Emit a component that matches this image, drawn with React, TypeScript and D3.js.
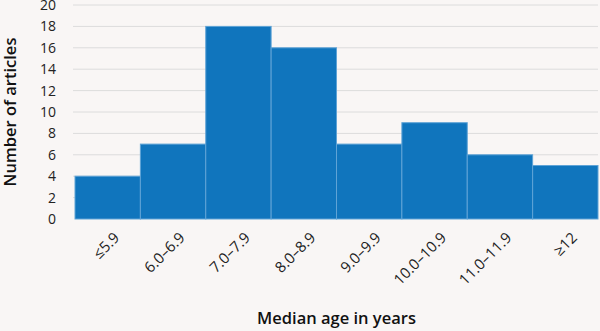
import { useEffect, useRef } from "react";
import * as d3 from "d3";

const categories = ["≤5.9", "6.0–6.9", "7.0–7.9", "8.0–8.9", "9.0–9.9", "10.0–10.9", "11.0–11.9", "≥12"];
const counts = [4, 7, 18, 16, 7, 9, 6, 5];
const yTicks = [0, 2, 4, 6, 8, 10, 12, 14, 16, 18, 20];

const Histogram = () => {
    const ref = useRef<SVGSVGElement>(null);

    useEffect(() => {
        const svg = d3.select(ref.current);
        svg.selectAll("*").remove();

        const W = 600, H = 331;
        const margin = { top: 5, right: 2, bottom: 112, left: 75 };
        const width = W - margin.left - margin.right;
        const height = H - margin.top - margin.bottom;
        const font = "'Open Sans', 'Noto Sans', sans-serif";

        svg.append("rect").attr("width", W).attr("height", H).attr("fill", "#f9f6f5");

        const g = svg.append("g").attr("transform", `translate(${margin.left},${margin.top})`);

        const x = d3.scaleBand().domain(categories).range([0, width]).padding(0);
        const y = d3.scaleLinear().domain([0, 20]).range([height, 0]);

        // gridlines
        g.selectAll("line.grid")
            .data(yTicks.filter(d => d > 0))
            .enter().append("line")
            .attr("class", "grid")
            .attr("x1", -2).attr("x2", width)
            .attr("y1", d => y(d)).attr("y2", d => y(d))
            .attr("stroke", "#dcdcdc")
            .attr("stroke-width", 1);

        // y tick labels
        g.selectAll("text.ytick")
            .data(yTicks)
            .enter().append("text")
            .attr("class", "ytick")
            .attr("x", -19)
            .attr("y", d => y(d))
            .attr("dy", "0.36em")
            .attr("text-anchor", "end")
            .attr("font-family", font)
            .attr("font-size", 14)
            .attr("fill", "#222")
            .text(d => d);

        // bars
        g.selectAll("rect.bar")
            .data(counts)
            .enter().append("rect")
            .attr("class", "bar")
            .attr("x", (_, i) => x(categories[i])!)
            .attr("y", d => y(d))
            .attr("width", x.bandwidth())
            .attr("height", d => height - y(d))
            .attr("fill", "#1075bd")
            .attr("stroke", "#5fa3d6")
            .attr("stroke-width", 1);

        // x tick labels
        g.selectAll("text.xtick")
            .data(categories)
            .enter().append("text")
            .attr("class", "xtick")
            .attr("transform", d => `translate(${x(d)! + x.bandwidth() / 2 + 5},${height + 12}) rotate(-45)`)
            .attr("text-anchor", "end")
            .attr("dy", "0.72em")
            .attr("font-family", font)
            .attr("font-size", 15)
            .attr("fill", "#222")
            .text(d => d);

        // axis titles
        svg.append("text")
            .attr("x", margin.left + width / 2)
            .attr("y", 324)
            .attr("text-anchor", "middle")
            .attr("font-family", font)
            .attr("font-weight", 600)
            .attr("font-size", 16.5)
            .attr("fill", "#111")
            .text("Median age in years");

        svg.append("text")
            .attr("transform", `translate(16,${margin.top + height / 2}) rotate(-90)`)
            .attr("text-anchor", "middle")
            .attr("font-family", font)
            .attr("font-weight", 600)
            .attr("font-size", 16.5)
            .attr("fill", "#111")
            .text("Number of articles");
    }, []);

    return <svg ref={ref} width={600} height={331} style={{ display: "block" }} />;
};

export default function App() {
    return (
        <div style={{ position: "absolute", left: 0, top: 0 }}>
            <Histogram />
        </div>
    );
}
